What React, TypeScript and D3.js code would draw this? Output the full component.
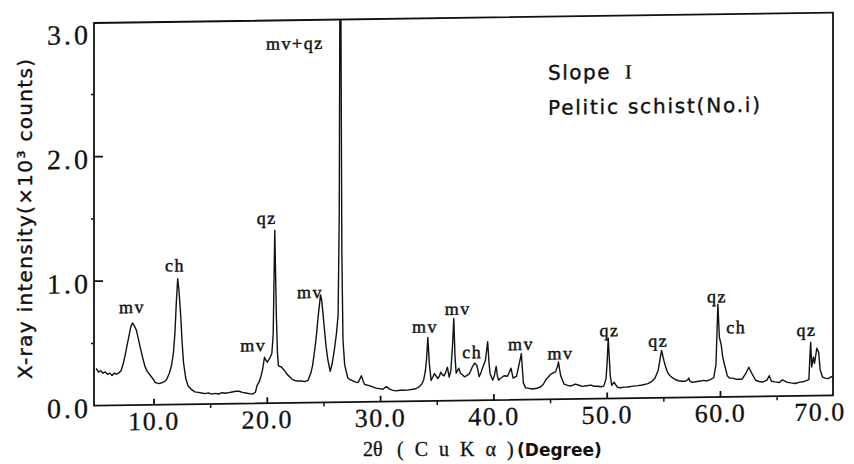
import React from 'react';
import * as d3 from 'd3';

// 2θ (degree) and X-ray intensity (×10³ counts)
const twoTheta = [
  4.9, 5.1, 5.3, 5.5, 5.7, 5.9, 6.1, 6.3, 6.5, 6.7, 6.9, 7.1, 7.3, 7.45, 7.6, 7.8, 7.95, 8.1, 8.25, 8.45,
  8.6, 8.77, 9.0, 9.2, 9.4, 9.65, 9.9, 10.1, 10.4, 10.7, 10.9, 11.1, 11.35, 11.56, 11.72, 11.85, 11.97, 12.09, 12.2, 12.36,
  12.48, 12.6, 12.8, 13.0, 13.3, 13.6, 13.9, 14.2, 14.5, 14.8, 15.1, 15.4, 15.7, 16.0, 16.3, 16.6, 16.9, 17.2, 17.5, 17.8,
  18.1, 18.4, 18.7, 18.95, 19.1, 19.27, 19.45, 19.6, 19.75, 19.85, 20.0, 20.2, 20.4, 20.52, 20.66, 20.8, 20.9, 20.98, 21.24, 21.53,
  21.75, 21.98, 22.2, 22.4, 22.7, 23.0, 23.3, 23.6, 23.85, 24.0, 24.15, 24.3, 24.5, 24.7, 24.8, 24.9, 25.05, 25.2, 25.35, 25.55,
  25.7, 25.9, 26.1, 26.25, 26.35, 26.4, 26.5, 26.58, 26.68, 26.83, 27.1, 27.3, 27.56, 27.8, 28.0, 28.15, 28.3, 28.45, 28.6, 29.0,
  29.3, 29.6, 29.9, 30.2, 30.5, 30.8, 31.1, 31.4, 31.7, 32.0, 32.4, 32.7, 33.1, 33.4, 33.65, 33.8, 33.95, 34.05, 34.17, 34.3,
  34.46, 34.6, 34.75, 34.9, 35.05, 35.2, 35.3, 35.45, 35.6, 35.75, 35.9, 36.05, 36.2, 36.35, 36.46, 36.57, 36.67, 36.9, 37.05, 37.25,
  37.4, 37.6, 37.84, 38.1, 38.3, 38.5, 38.7, 38.85, 39.0, 39.25, 39.45, 39.57, 39.66, 39.9, 40.05, 40.2, 40.3, 40.4, 40.6, 40.9,
  41.2, 41.35, 41.5, 41.7, 42.0, 42.25, 42.42, 42.55, 42.6, 42.8, 43.1, 43.4, 43.8, 44.1, 44.35, 44.6, 45.0, 45.2, 45.44, 45.6,
  45.7, 45.8, 45.9, 46.2, 46.5, 46.8, 47.2, 47.5, 47.8, 48.2, 48.56, 48.85, 49.15, 49.45, 49.7, 49.9, 50.0, 50.09, 50.2, 50.27,
  50.4, 50.6, 50.9, 51.2, 51.5, 51.8, 52.2, 52.7, 53.1, 53.6, 53.9, 54.2, 54.5, 54.7, 54.8, 55.0, 55.15, 55.3, 55.5, 55.75,
  56.0, 56.3, 56.6, 56.9, 57.1, 57.2, 57.3, 57.5, 57.8, 58.25, 58.5, 58.8, 59.1, 59.4, 59.6, 59.77, 59.9, 60.06, 60.2, 60.35,
  60.6, 60.8, 61.1, 61.4, 61.7, 61.9, 62.2, 62.5, 62.8, 63.1, 63.4, 63.7, 64.1, 64.3, 64.5, 64.8, 65.2, 65.46, 65.9, 66.2,
  66.6, 67.0, 67.4, 67.8, 67.9, 67.96, 68.05, 68.2, 68.3, 68.5, 68.66, 68.8, 69.0, 69.2, 69.5, 69.8, 70.05,
];
const intensity = [
  0.30, 0.27, 0.28, 0.26, 0.27, 0.25, 0.26, 0.24, 0.26, 0.25, 0.26, 0.28, 0.34, 0.40, 0.47, 0.56, 0.63, 0.66, 0.64, 0.60,
  0.54, 0.47, 0.38, 0.31, 0.27, 0.24, 0.21, 0.18, 0.17, 0.177, 0.185, 0.20, 0.25, 0.32, 0.42, 0.58, 0.82, 1.01, 0.92, 0.71,
  0.50, 0.34, 0.21, 0.15, 0.12, 0.10, 0.095, 0.09, 0.085, 0.09, 0.08, 0.085, 0.08, 0.09, 0.085, 0.09, 0.095, 0.10, 0.10, 0.09,
  0.085, 0.08, 0.075, 0.09, 0.145, 0.17, 0.22, 0.28, 0.37, 0.35, 0.33, 0.36, 0.40, 0.55, 1.39, 0.70, 0.40, 0.30, 0.29, 0.26,
  0.23, 0.21, 0.19, 0.18, 0.175, 0.175, 0.17, 0.18, 0.24, 0.30, 0.40, 0.51, 0.70, 0.865, 0.82, 0.73, 0.58, 0.44, 0.34, 0.25,
  0.30, 0.41, 0.55, 0.70, 1.5, 3.07, 3.07, 1.2, 0.50, 0.30, 0.196, 0.18, 0.17, 0.16, 0.156, 0.18, 0.21, 0.17, 0.14, 0.13,
  0.12, 0.11, 0.105, 0.10, 0.12, 0.10, 0.09, 0.085, 0.09, 0.09, 0.09, 0.095, 0.10, 0.115, 0.14, 0.17, 0.24, 0.33, 0.51, 0.30,
  0.165, 0.19, 0.22, 0.20, 0.18, 0.20, 0.23, 0.21, 0.20, 0.23, 0.27, 0.19, 0.24, 0.45, 0.66, 0.35, 0.22, 0.26, 0.22, 0.205,
  0.19, 0.20, 0.215, 0.27, 0.30, 0.28, 0.19, 0.22, 0.26, 0.32, 0.47, 0.30, 0.215, 0.16, 0.20, 0.27, 0.20, 0.16, 0.175, 0.195,
  0.19, 0.22, 0.255, 0.175, 0.19, 0.295, 0.37, 0.20, 0.135, 0.095, 0.09, 0.085, 0.09, 0.10, 0.12, 0.16, 0.20, 0.21, 0.22, 0.26,
  0.30, 0.24, 0.186, 0.12, 0.11, 0.105, 0.12, 0.11, 0.10, 0.105, 0.11, 0.10, 0.10, 0.095, 0.10, 0.16, 0.30, 0.485, 0.30, 0.185,
  0.105, 0.13, 0.09, 0.085, 0.09, 0.09, 0.095, 0.10, 0.105, 0.115, 0.13, 0.155, 0.22, 0.33, 0.38, 0.30, 0.25, 0.21, 0.18, 0.16,
  0.145, 0.135, 0.13, 0.13, 0.14, 0.155, 0.13, 0.12, 0.125, 0.13, 0.135, 0.13, 0.14, 0.155, 0.26, 0.745, 0.48, 0.42, 0.32, 0.26,
  0.17, 0.15, 0.15, 0.14, 0.14, 0.14, 0.18, 0.235, 0.18, 0.13, 0.12, 0.115, 0.13, 0.165, 0.12, 0.115, 0.11, 0.13, 0.11, 0.105,
  0.10, 0.11, 0.115, 0.13, 0.33, 0.43, 0.23, 0.31, 0.26, 0.38, 0.35, 0.205, 0.15, 0.14, 0.135, 0.15, 0.14,
];

const xTickValues = [10, 20, 30, 40, 50, 60, 70];
const xTickLabels = ['10.0', '20.0', '30.0', '40.0', '50.0', '60.0', '70.0'];
const xMinorTicks = [15, 25, 35, 45, 55, 65];
const yTickValues = [0, 1, 2, 3];
const yTickLabels = ['0.0', '1.0', '2.0', '3.0'];
const yMinorTicks = [0.5, 1.5, 2.5];

// mineral peak labels: name, 2θ, label height (×10³ counts)
const peakNames = ['mv', 'ch', 'mv', 'qz', 'mv+qz', 'mv', 'mv', 'mv', 'ch', 'mv', 'mv', 'qz', 'qz', 'qz', 'ch', 'qz'];
const peakTheta = [8.06, 11.85, 18.77, 19.95, 22.44, 23.77, 33.92, 36.8, 38.1, 42.4, 45.87, 50.2, 54.5, 59.7, 61.4, 67.6];
const peakLabelY = [0.79, 1.12, 0.47, 1.49, 2.89, 0.89, 0.60, 0.74, 0.39, 0.45, 0.37, 0.55, 0.46, 0.81, 0.56, 0.53];

export default function App() {
  const W = 854, H = 464;
  const left = 94, right = 833, bottom = 405.7, top = 23;
  const pxPerUnit = 124.5;
  const x = d3.scaleLinear().domain([4.704, 69.93]).range([left, right]);
  const y = d3.scaleLinear().domain([0, (bottom - top) / pxPerUnit]).range([bottom, top]);
  const pts: [number, number][] = twoTheta.map((t, i) => [t, intensity[i]]);
  const line = d3.line<[number, number]>().x(d => x(d[0])).y(d => y(d[1]));

  const serif = "'Liberation Serif', 'DejaVu Serif', serif";
  const sans = "'DejaVu Sans', 'Liberation Sans', sans-serif";
  const ink = '#111';

  return (
    <svg width={W} height={H} viewBox={`0 0 ${W} ${H}`} style={{ position: 'absolute', left: 0, top: 0, background: '#fff' }}>
      <defs>
        <clipPath id="plotclip">
          <rect x={left} y={top} width={right - left} height={bottom - top} />
        </clipPath>
      </defs>
      <g transform={`translate(${left}, ${bottom}) skewY(-0.8) translate(${-left}, ${-bottom})`}>
        {/* spectrum */}
        <path d={line(pts) || ''} fill="none" stroke={ink} strokeWidth={1.4} strokeLinejoin="round" clipPath="url(#plotclip)" />
        {/* frame */}
        <rect x={left} y={top} width={right - left} height={bottom - top} fill="none" stroke={ink} strokeWidth={1.8} />
        {/* x ticks */}
        {xTickValues.map((v, i) => (
          <g key={'xt' + v}>
            {v < 70 && <line x1={x(v)} x2={x(v)} y1={bottom} y2={bottom - 6} stroke={ink} strokeWidth={1.8} />}
            <text x={Math.min(x(v), W - 34)} y={bottom + 25} textAnchor="middle" fontFamily={serif} fontSize={26}
              letterSpacing={1.5} fill={ink} stroke={ink} strokeWidth={0.3}>
              {xTickLabels[i]}
            </text>
          </g>
        ))}
        {xMinorTicks.map(v => (
          <line key={'xm' + v} x1={x(v)} x2={x(v)} y1={bottom} y2={bottom + 4} stroke={ink} strokeWidth={1.5} />
        ))}
        {/* y ticks */}
        {yTickValues.map((v, i) => (
          <g key={'yt' + v}>
            {v > 0 && v < 3 && <line x1={left} x2={left + 9} y1={y(v)} y2={y(v)} stroke={ink} strokeWidth={1.8} />}
            <text x={left - 3} y={y(v) + 12} textAnchor="end" fontFamily={serif} fontSize={28} letterSpacing={3}
              fill={ink} stroke={ink} strokeWidth={0.3}>
              {yTickLabels[i]}
            </text>
          </g>
        ))}
        {yMinorTicks.map(v => (
          <line key={'ym' + v} x1={left - 3} x2={left} y1={y(v)} y2={y(v)} stroke={ink} strokeWidth={1.5} />
        ))}
        {/* peak labels */}
        {peakNames.map((n, i) => (
          <text key={'pl' + i} x={x(peakTheta[i])} y={y(peakLabelY[i])} dy="0.35em" textAnchor="middle"
            fontFamily={serif} fontSize={18} letterSpacing={1.5} fill={ink} stroke={ink} strokeWidth={0.45}>
            {n}
          </text>
        ))}
        {/* sample annotation */}
        <text x={548} y={86} fontFamily={sans} fontSize={20} letterSpacing={1.5} fill={ink} stroke={ink} strokeWidth={0.4}>
          Slope<tspan fontFamily={serif} dx={14}>I</tspan>
        </text>
        <text x={548} y={121} fontFamily={sans} fontSize={20} letterSpacing={1.8} fill={ink} stroke={ink} strokeWidth={0.4}>
          Pelitic schist(No.i)
        </text>
      </g>
      {/* axis titles */}
      <text x={25} y={219} transform="rotate(-90, 25, 219)" dy="0.35em" textAnchor="middle" fontFamily={sans}
        fontSize={20} textLength={320} lengthAdjust="spacing" fill={ink} stroke={ink} strokeWidth={0.4}>
        X-ray intensity(×10³ counts)
      </text>
      <text y={456} fontFamily={serif} fontSize={20} fill={ink} stroke={ink} strokeWidth={0.3}>
        <tspan x={363}>2θ</tspan>
        <tspan x={397} letterSpacing={11}>(CuKα)</tspan>
        <tspan x={517} fontFamily={sans} fontWeight="bold" fontSize={17} strokeWidth={0}>(Degree)</tspan>
      </text>
    </svg>
  );
}
